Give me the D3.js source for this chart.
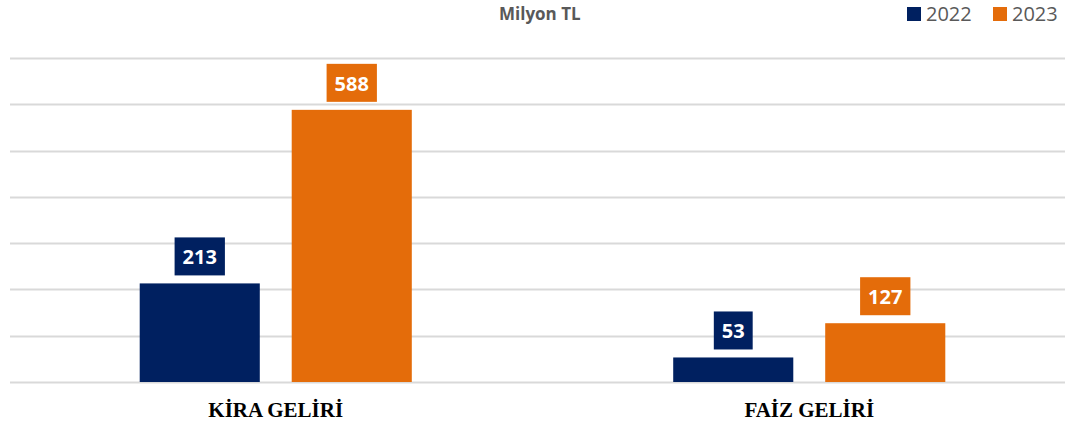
<!DOCTYPE html>
<html>
<head>
<meta charset="utf-8">
<script src="https://cdn.jsdelivr.net/npm/d3@7"></script>
<style>
  body { margin: 0; background: #fff; }
  svg { display: block; }
</style>
</head>
<body>
<div id="chart"></div>
<script>
const categories = ["KİRA GELİRİ", "FAİZ GELİRİ"];
const years = ["2022", "2023"];
const values2022 = [213, 53];
const values2023 = [588, 127];
const yTicks = [0, 100, 200, 300, 400, 500, 600, 700];
const unitLabel = "Milyon TL";

document.addEventListener('DOMContentLoaded', function () {
  const w = 1065;
  const h = 426;
  const colors = { "2022": "#002060", "2023": "#E46C0A" };

  const rows = categories.map((c, i) => ({
    cat: c,
    vals: [{ year: "2022", v: values2022[i] }, { year: "2023", v: values2023[i] }]
  }));

  const xScale = d3.scaleBand()
    .domain(categories)
    .range([9, 1076])
    .paddingInner(0.49)
    .paddingOuter(0.245);
  const x1 = d3.scaleBand()
    .domain(years)
    .range([0, xScale.bandwidth()])
    .paddingInner(0.21);
  const yScale = d3.scaleLinear()
    .domain([0, 700])
    .range([382, 58]);

  const svg = d3.select("#chart")
    .append("svg")
    .attr("width", w)
    .attr("height", h);

  // gridlines
  svg.append("g")
    .selectAll("line")
    .data(yTicks)
    .enter()
    .append("line")
    .attr("x1", 10)
    .attr("x2", w)
    .attr("y1", d => Math.round(yScale(d)) + 0.5)
    .attr("y2", d => Math.round(yScale(d)) + 0.5)
    .attr("stroke", "#D9D9D9")
    .attr("stroke-width", 2);

  const groups = svg.selectAll(".grp")
    .data(rows)
    .enter()
    .append("g")
    .attr("class", "grp")
    .attr("transform", d => "translate(" + xScale(d.cat) + ",0)");

  groups.selectAll("rect.bar")
    .data(d => d.vals)
    .enter()
    .append("rect")
    .attr("class", "bar")
    .attr("x", d => x1(d.year))
    .attr("y", d => yScale(d.v))
    .attr("width", x1.bandwidth())
    .attr("height", d => yScale(0) - yScale(d.v))
    .attr("fill", d => colors[d.year]);

  // value labels in coloured boxes
  const lbl = groups.selectAll("g.lbl")
    .data(d => d.vals)
    .enter()
    .append("g")
    .attr("class", "lbl");

  lbl.append("rect")
    .attr("fill", d => colors[d.year]);
  lbl.append("text")
    .attr("x", d => x1(d.year) + x1.bandwidth() / 2)
    .attr("y", d => yScale(d.v) - 19)
    .attr("text-anchor", "middle")
    .attr("font-family", "'Open Sans', sans-serif")
    .attr("font-weight", "bold")
    .attr("font-size", "20px")
    .attr("fill", "#fff")
    .text(d => d.v);
  lbl.each(function (d) {
    const g = d3.select(this);
    const bb = g.select("text").node().getBBox();
    const bw = bb.width + 16;
    const cx = x1(d.year) + x1.bandwidth() / 2;
    g.select("rect")
      .attr("x", cx - bw / 2)
      .attr("y", yScale(d.v) - 46)
      .attr("width", bw)
      .attr("height", 38);
  });

  // category labels
  svg.append("g")
    .selectAll("text")
    .data(categories)
    .enter()
    .append("text")
    .attr("x", d => xScale(d) + xScale.bandwidth() / 2)
    .attr("y", 417)
    .attr("text-anchor", "middle")
    .attr("font-family", "'Liberation Serif', 'Times New Roman', serif")
    .attr("font-weight", "bold")
    .attr("font-size", "21px")
    .attr("fill", "#000")
    .text(d => d);

  // unit title
  svg.append("text")
    .attr("x", 499)
    .attr("y", 20)
    .attr("font-family", "'Open Sans', sans-serif")
    .attr("font-weight", "bold")
    .attr("font-size", "17px")
    .attr("fill", "#595959")
    .text(unitLabel);

  // legend
  const legX = { "2022": 907, "2023": 993 };
  const leg = svg.selectAll(".leg")
    .data(years)
    .enter()
    .append("g")
    .attr("class", "leg")
    .attr("transform", d => "translate(" + legX[d] + ",7)");
  leg.append("rect")
    .attr("width", 14)
    .attr("height", 14)
    .attr("fill", d => colors[d]);
  leg.append("text")
    .attr("x", 19)
    .attr("y", 14)
    .attr("font-family", "'Open Sans', sans-serif")
    .attr("font-size", "20px")
    .attr("fill", "#595959")
    .text(d => d);
});
</script>
</body>
</html>
